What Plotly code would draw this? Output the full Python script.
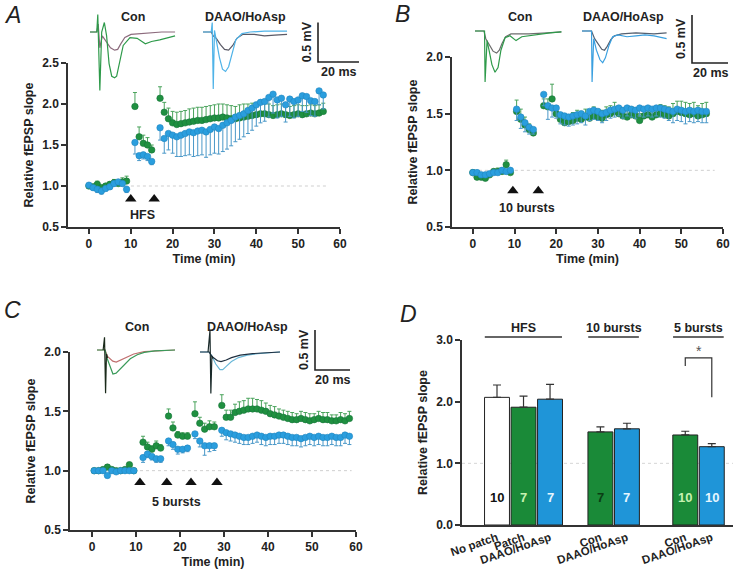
import plotly.graph_objects as go

W, H = 733, 570

# ---------------- data ----------------
# panel A (HFS)
a_time = list(range(0, 10)) + [11, 12, 13, 14, 15] + list(range(17, 57))
a_con = [1.00, 0.99, 1.02, 0.98, 1.00, 1.02, 1.04, 1.03, 1.05, 1.06,
         1.97, 1.60, 1.52, 1.50, 1.44,
         2.07, 1.90, 1.82, 1.77, 1.75, 1.76, 1.77, 1.78, 1.79, 1.80,
         1.80, 1.81, 1.82, 1.83, 1.83, 1.84, 1.83, 1.82, 1.82, 1.83,
         1.84, 1.85, 1.86, 1.87, 1.88, 1.88, 1.87, 1.86, 1.87, 1.88,
         1.87, 1.86, 1.87, 1.88, 1.87, 1.88, 1.89, 1.88, 1.89, 1.91]
a_con_err = [0.03, 0.03, 0.04, 0.03, 0.03, 0.03, 0.04, 0.04, 0.05, 0.06,
             0.17, 0.12, 0.10, 0.09, 0.06,
             0.14, 0.12, 0.13, 0.14, 0.15, 0.15, 0.15, 0.16, 0.16, 0.16,
             0.16, 0.16, 0.16, 0.16, 0.17, 0.16, 0.16, 0.16, 0.15, 0.16,
             0.16, 0.15, 0.15, 0.14, 0.14, 0.13, 0.13, 0.12, 0.12, 0.12,
             0.12, 0.11, 0.11, 0.11, 0.11, 0.10, 0.10, 0.10, 0.10, 0.10]
a_daao = [1.01, 0.98, 0.96, 0.94, 0.97, 0.99, 1.03, 1.05, 1.03, 0.96,
          1.53, 1.37, 1.38, 1.36, 1.30,
          1.71, 1.58, 1.64, 1.62, 1.60, 1.62, 1.64, 1.66, 1.65, 1.67,
          1.68, 1.66, 1.69, 1.72, 1.70, 1.74, 1.77, 1.80, 1.84, 1.86,
          1.88, 1.92, 1.95, 1.99, 2.02, 2.03, 2.08, 2.12, 2.05, 2.07,
          1.99, 2.06, 2.03, 2.05, 2.10, 2.09, 2.04, 2.03, 2.16, 2.11]
a_daao_err = [0.03, 0.03, 0.04, 0.04, 0.03, 0.03, 0.03, 0.03, 0.03, 0.04,
              0.14, 0.06, 0.05, 0.05, 0.04,
              0.15, 0.18, 0.20, 0.22, 0.24, 0.26, 0.27, 0.28, 0.29, 0.30,
              0.30, 0.31, 0.31, 0.32, 0.31, 0.32, 0.32, 0.31, 0.30, 0.29,
              0.28, 0.28, 0.27, 0.26, 0.25, 0.24, 0.24, 0.23, 0.22, 0.22,
              0.21, 0.21, 0.20, 0.20, 0.19, 0.19, 0.18, 0.18, 0.17, 0.17]
a_stims = [10, 15.6]

# panel B (10 bursts)
b_time = list(range(0, 10)) + [10.5, 11.5, 12.5, 13.5, 14.5] + list(range(17, 57))
b_con = [0.98, 0.94, 0.94, 0.93, 0.96, 0.99, 0.99, 0.99, 1.05, 0.98,
         1.52, 1.45, 1.40, 1.36, 1.33,
         1.57, 1.56, 1.63, 1.50, 1.45, 1.42, 1.43, 1.44, 1.46, 1.45,
         1.47, 1.46, 1.48, 1.47, 1.46, 1.49, 1.50, 1.52, 1.50, 1.48,
         1.47, 1.49, 1.48, 1.44, 1.48, 1.49, 1.47, 1.49, 1.50, 1.49,
         1.48, 1.50, 1.52, 1.51, 1.50, 1.49, 1.50, 1.48, 1.49, 1.50]
b_con_err = [0.02, 0.02, 0.02, 0.02, 0.02, 0.02, 0.03, 0.03, 0.04, 0.03,
             0.10, 0.09, 0.07, 0.05, 0.04,
             0.06, 0.07, 0.13, 0.07, 0.06, 0.06, 0.06, 0.07, 0.07, 0.07,
             0.07, 0.07, 0.08, 0.07, 0.07, 0.07, 0.07, 0.08, 0.07, 0.07,
             0.07, 0.07, 0.07, 0.06, 0.07, 0.07, 0.07, 0.07, 0.08, 0.08,
             0.08, 0.09, 0.09, 0.10, 0.10, 0.10, 0.10, 0.09, 0.10, 0.10]
b_daao = [0.98, 0.98, 0.96, 0.96, 0.97, 0.98, 0.98, 1.00, 0.99, 1.00,
          1.54, 1.47, 1.42, 1.38, 1.36,
          1.67, 1.57, 1.55, 1.55, 1.49, 1.48, 1.47, 1.48, 1.49, 1.50,
          1.48, 1.52, 1.53, 1.52, 1.50, 1.51, 1.53, 1.54, 1.55, 1.53,
          1.55, 1.54, 1.53, 1.55, 1.54, 1.55, 1.54, 1.55, 1.55, 1.54,
          1.53, 1.52, 1.54, 1.53, 1.52, 1.53, 1.52, 1.53, 1.52, 1.52]
b_daao_err = [0.02, 0.02, 0.02, 0.02, 0.02, 0.02, 0.02, 0.02, 0.02, 0.02,
              0.10, 0.10, 0.08, 0.06, 0.04,
              0.10, 0.12, 0.08, 0.09, 0.08, 0.08, 0.08, 0.08, 0.08, 0.08,
              0.08, 0.08, 0.08, 0.08, 0.08, 0.07, 0.07, 0.07, 0.07, 0.07,
              0.07, 0.07, 0.07, 0.07, 0.07, 0.07, 0.07, 0.07, 0.08, 0.08,
              0.09, 0.10, 0.10, 0.10, 0.11, 0.10, 0.10, 0.10, 0.10, 0.10]
b_stims = [9.6, 15.7]

# panel C (5 bursts)
c_time = ([0.5, 1.5, 2.5, 3.5, 4.5, 5.5, 6.5, 7.5, 8.5, 9.5]
          + [11.6, 12.6, 13.6, 14.6, 15.6]
          + [17.4, 18.4, 19.5, 20.6, 21.7]
          + [23.4, 24.5, 25.6, 26.7, 27.8]
          + [29.5 + i for i in range(30)])
c_con = [1.00, 1.00, 1.01, 1.03, 1.01, 1.00, 1.00, 1.01, 1.05, 1.00,
         1.24, 1.20, 1.18, 1.21, 1.19,
         1.46, 1.36, 1.30, 1.29, 1.29,
         1.48, 1.40, 1.35, 1.37, 1.37,
         1.55, 1.45, 1.45, 1.49, 1.50, 1.51, 1.52, 1.52, 1.52, 1.51,
         1.50, 1.48, 1.47, 1.46, 1.45, 1.44, 1.43, 1.43, 1.44, 1.43,
         1.42, 1.43, 1.44, 1.43, 1.43, 1.42, 1.42, 1.43, 1.42, 1.44]
c_con_err = [0.01, 0.01, 0.01, 0.02, 0.01, 0.01, 0.01, 0.01, 0.02, 0.01,
             0.05, 0.04, 0.03, 0.04, 0.03,
             0.06, 0.05, 0.03, 0.03, 0.03,
             0.10, 0.05, 0.05, 0.05, 0.04,
             0.09, 0.06, 0.06, 0.07, 0.08, 0.08, 0.09, 0.09, 0.08, 0.08,
             0.07, 0.07, 0.07, 0.06, 0.06, 0.06, 0.06, 0.05, 0.06, 0.06,
             0.06, 0.05, 0.06, 0.06, 0.06, 0.05, 0.05, 0.06, 0.06, 0.06]
c_daao = [1.00, 1.00, 1.00, 0.96, 1.00, 0.99, 1.00, 1.00, 1.00, 1.00,
          1.11, 1.14, 1.12, 1.10, 1.10,
          1.25, 1.22, 1.18, 1.18, 1.19,
          1.31, 1.25, 1.21, 1.21, 1.21,
          1.34, 1.32, 1.31, 1.30, 1.29, 1.28, 1.28, 1.29, 1.30, 1.29,
          1.28, 1.29, 1.29, 1.30, 1.30, 1.29, 1.28, 1.28, 1.27, 1.28,
          1.29, 1.28, 1.29, 1.28, 1.28, 1.29, 1.28, 1.28, 1.30, 1.29]
c_daao_err = [0.01, 0.01, 0.01, 0.02, 0.01, 0.01, 0.01, 0.01, 0.01, 0.01,
              0.04, 0.03, 0.03, 0.03, 0.03,
              0.04, 0.04, 0.04, 0.03, 0.03,
              0.04, 0.05, 0.08, 0.05, 0.04,
              0.05, 0.06, 0.06, 0.06, 0.06, 0.06, 0.06, 0.06, 0.06, 0.07,
              0.07, 0.07, 0.07, 0.07, 0.07, 0.07, 0.07, 0.07, 0.07, 0.07,
              0.07, 0.07, 0.07, 0.07, 0.07, 0.07, 0.07, 0.07, 0.07, 0.07]
c_stims = [10.9, 17.0, 22.5, 28.4]

# panel D (summary)
d_groups = ["HFS", "10 bursts", "5 bursts"]
d_group_sizes = [3, 2, 2]
d_labels = ["No patch", "Patch", "DAAO/HoAsp", "Con", "DAAO/HoAsp", "Con", "DAAO/HoAsp"]
d_values = [2.07, 1.91, 2.04, 1.51, 1.56, 1.46, 1.27]
d_errors = [0.20, 0.18, 0.24, 0.08, 0.09, 0.06, 0.05]
d_n = [10, 7, 7, 7, 7, 10, 10]

# example fEPSP traces (ms, mV)
a_con_ms = [0, 3.3, 3.8, 4.8, 5.7, 7.0, 8.1, 9.3, 10.6, 12.0, 13.0, 14.6, 16.2, 19.5, 23, 27, 30, 34, 38, 41.5]
a_con_post = [0, 0, 0.22, -0.74, 0.0, 0.12, -0.05, -0.40, -0.56, -0.58, -0.56, -0.38, -0.17, -0.07, -0.08,
              -0.15, -0.12, -0.10, -0.07, -0.05]
a_con_pre_ms = [0, 3.3, 4.0, 4.8, 6, 8, 10, 12, 13.5, 15, 17, 20, 25, 30, 35, 41.5]
a_con_pre = [0, 0, 0.10, -0.20, -0.05, -0.12, -0.20, -0.23, -0.22, -0.15, -0.07, -0.03, -0.02, -0.01, 0.0, 0.0]
a_daao_ms = [0, 4.0, 4.5, 5.0, 5.6, 6.5, 8.0, 9.5, 11.0, 12.5, 14.0, 16.0, 19.0, 23, 30, 36, 41]
a_daao_post = [0, 0, 0.12, -0.72, 0.02, -0.10, -0.32, -0.47, -0.50, -0.44, -0.28, -0.10, -0.02, 0.0, 0.01, 0.01, 0.01]
a_daao_pre_ms = [0, 4.0, 5.0, 6.5, 8.5, 10.5, 12.5, 14.5, 16.5, 19.5, 25, 30, 35, 41]
a_daao_pre = [0, 0, -0.05, -0.08, -0.16, -0.22, -0.23, -0.17, -0.08, -0.03, -0.03, -0.05, -0.04, -0.03]

b_con_ms = [0, 5.0, 5.3, 5.6, 6.7, 7.8, 9.4, 11.1, 12.8, 14.4, 16.7, 19.4, 22.8, 26, 33, 41.7, 48]
b_con_post = [0, 0, 0.0, -0.53, -0.10, -0.20, -0.35, -0.43, -0.38, -0.20, -0.07, -0.05, -0.10, -0.06, -0.04,
              -0.02, -0.01]
b_con_pre_ms = [0, 5, 6, 8, 10, 12, 13.5, 15, 17, 20, 25, 30, 40, 48]
b_con_pre = [0, 0, -0.08, -0.15, -0.21, -0.23, -0.20, -0.13, -0.06, -0.03, -0.03, -0.03, -0.02, -0.01]
b_daao_ms = [0, 5.3, 5.6, 6.5, 8, 10, 11.5, 13, 15, 17, 20, 25, 30, 35, 40, 45, 47]
b_daao_post = [0, 0, -0.53, -0.08, -0.20, -0.30, -0.33, -0.28, -0.15, -0.06, -0.04, -0.06, -0.05, -0.04,
               -0.05, -0.07, -0.08]
b_daao_pre_ms = [0, 5.3, 7, 9, 11, 12.5, 14, 16, 18, 22, 30, 40, 47]
b_daao_pre = [0, 0, -0.08, -0.14, -0.19, -0.20, -0.16, -0.09, -0.05, -0.03, -0.02, -0.03, -0.02]

c_con_ms = [0, 4.6, 5.7, 7.4, 9.1, 10.9, 13, 16, 19, 23, 27, 33, 44.6]
c_con_post = [0, 0, -0.10, -0.20, -0.30, -0.29, -0.24, -0.17, -0.11, -0.06, -0.03, -0.01, 0.0]
c_con_pre_ms = [0, 4.6, 6, 9, 11, 14, 17, 21, 27, 35, 44.6]
c_con_pre = [0, 0, -0.08, -0.14, -0.15, -0.12, -0.08, -0.05, -0.02, -0.01, 0.0]
c_con_art_ms = [3.5, 4.3, 4.9, 5.4, 6.0]
c_con_art = [0, 0.16, -0.54, -0.05, -0.10]
c_daao_ms = [0, 5.2, 6.8, 9, 11.4, 13, 15, 18, 22, 27, 33, 40, 45.7]
c_daao_post = [0, 0, -0.05, -0.15, -0.22, -0.22, -0.18, -0.12, -0.07, -0.04, -0.02, -0.01, 0]
c_daao_pre_ms = [0, 5.2, 7, 10, 12, 15, 18, 23, 30, 45.7]
c_daao_pre = [0, 0, -0.06, -0.11, -0.12, -0.10, -0.07, -0.04, -0.02, 0]
c_daao_art_ms = [4.6, 5.7, 6.2, 6.8, 7.4]
c_daao_art = [0, 0.27, -0.52, -0.05, -0.08]

# ---------------- style ----------------
GREEN = "#1f9040"
GREEN_ERR = "#4aa35c"
BLUE = "#2a9ede"
BLUE_ERR = "#4a98c8"
BAR_GREEN = "#1a8a38"
BAR_BLUE = "#1f95d8"
AXC = "#333333"
FONT = "Liberation Sans, Arial, sans-serif"

fig = go.Figure()
layout = dict(width=W, height=H, margin=dict(l=0, r=0, t=0, b=0, autoexpand=False),
              template="none",
              paper_bgcolor="white", plot_bgcolor="rgba(0,0,0,0)", showlegend=False,
              font=dict(family=FONT, size=12, color="#222"))
shapes = []
annotations = []

AX = dict(showline=True, linecolor=AXC, linewidth=1.5, ticks="outside", ticklen=5, tickwidth=1.5,
          tickcolor=AXC, showgrid=False, zeroline=False, automargin=False,
          tickfont=dict(family=FONT, size=12, weight="bold", color="#222"))
TITLE_FONT = dict(family=FONT, size=12.5, weight="bold", color="#222")


def sfx(n):
    return "" if n == 1 else str(n)


def text(x, y, s, size=12.5, xref="paper", yref="paper", **kw):
    if xref == "paper":
        x = x / W
    if yref == "paper":
        y = 1 - y / H
    annotations.append(dict(x=x, y=y, xref=xref, yref=yref, text=s, showarrow=False,
                            xanchor="center", yanchor="middle",
                            font=dict(family=FONT, size=size, weight=kw.pop("weight", "bold"),
                                      color=kw.pop("color", "#222"), style=kw.pop("style", "normal")), **kw))


def time_panel(n, box, yr, t, con, con_err, daao, daao_err, stims, stim_y, stim_text, stim_text_xy, line_end):
    s = sfx(n)
    x0, y0, x1, y1 = box
    layout["xaxis" + s] = dict(domain=[x0 / W, x1 / W], range=[-5, 60], anchor="y" + s,
                               tickvals=[0, 10, 20, 30, 40, 50, 60],
                               title=dict(text="Time (min)", font=TITLE_FONT, standoff=4), **AX)
    layout["yaxis" + s] = dict(domain=[1 - y1 / H, 1 - y0 / H], range=yr, anchor="x" + s,
                               tick0=0.5, dtick=0.5, tickformat=".1f",
                               title=dict(text="Relative fEPSP slope", font=TITLE_FONT, standoff=6), **AX)
    shapes.append(dict(type="line", xref="x" + s, yref="y" + s, x0=0, x1=line_end, y0=1, y1=1,
                       line=dict(color="#cfcfcf", width=1, dash="dot"), layer="below"))
    fig.add_trace(go.Scatter(
        x=t, y=con, mode="markers", xaxis="x" + s, yaxis="y" + s,
        marker=dict(color=GREEN, size=6.5, line=dict(color="#17763a", width=0.6)),
        error_y=dict(type="data", symmetric=False, array=con_err, arrayminus=[0] * len(con),
                     color=GREEN_ERR, thickness=1, width=2)))
    fig.add_trace(go.Scatter(
        x=t, y=daao, mode="markers", xaxis="x" + s, yaxis="y" + s,
        marker=dict(color=BLUE, size=6.5, line=dict(color="#2286c0", width=0.6)),
        error_y=dict(type="data", symmetric=False, array=[0] * len(daao), arrayminus=daao_err,
                     color=BLUE_ERR, thickness=1, width=2)))
    fig.add_trace(go.Scatter(
        x=stims, y=[stim_y] * len(stims), mode="markers", xaxis="x" + s, yaxis="y" + s,
        marker=dict(symbol="triangle-up", size=10, color="#111")))
    text(stim_text_xy[0], stim_text_xy[1], stim_text, size=12.5, xref="x" + s, yref="y" + s)


def inset(n, x0, y0, pxms, pxmv, tr, vr):
    layout["xaxis%d" % n] = dict(domain=[(x0 + tr[0] * pxms) / W, (x0 + tr[1] * pxms) / W],
                                 range=tr, visible=False, anchor="y%d" % n, automargin=False)
    layout["yaxis%d" % n] = dict(domain=[1 - (y0 - vr[0] * pxmv) / H, 1 - (y0 - vr[1] * pxmv) / H],
                                 range=vr, visible=False, anchor="x%d" % n, automargin=False)


def wave(n, ms, mv, color, width=1.2):
    fig.add_trace(go.Scatter(x=ms, y=mv, mode="lines", xaxis="x%d" % n, yaxis="y%d" % n,
                             line=dict(color=color, width=width), hoverinfo="skip"))


def scalebar(n, x0, y0, pxms, pxmv):
    inset(n, x0, y0, pxms, pxmv, [-2, 22], [-0.05, 0.55])
    fig.add_trace(go.Scatter(x=[0, 0, 20], y=[0.5, 0, 0], mode="lines", xaxis="x%d" % n, yaxis="y%d" % n,
                             line=dict(color="#222", width=1.6)))
    annotations.append(dict(x=10, y=0, xref="x%d" % n, yref="y%d" % n, text="20 ms", showarrow=False,
                            yanchor="top", yshift=-1, font=dict(family=FONT, size=12.5, weight="bold", color="#222")))
    annotations.append(dict(x=0, y=0.25, xref="x%d" % n, yref="y%d" % n, text="0.5 mV", showarrow=False,
                            textangle=-90, xanchor="right", xshift=-2,
                            font=dict(family=FONT, size=12.5, weight="bold", color="#222")))


# ---------------- panels A-C ----------------
time_panel(1, (68, 63, 340, 227), [0.5, 2.5], a_time, a_con, a_con_err, a_daao, a_daao_err,
           a_stims, 0.84, "HFS", (12.8, 0.65), 57)
time_panel(2, (452, 57, 723, 227), [0.5, 2.0], b_time, b_con, b_con_err, b_daao, b_daao_err,
           b_stims, 0.82, "10 bursts", (13, 0.67), 58)
time_panel(3, (70, 352, 356, 530), [0.5, 2.0], c_time, c_con, c_con_err, c_daao, c_daao_err,
           c_stims, 0.90, "5 bursts", (19.3, 0.74), 59)

# ---------------- panel D ----------------
pos = []
gaps = [0, 1.9, 2.2]
for g, size in enumerate(d_group_sizes):
    start = (pos[-1] + gaps[g]) if pos else 0.0
    pos += [start + i for i in range(size)]

bar_colors = ["white", BAR_GREEN, BAR_BLUE, BAR_GREEN, BAR_BLUE, BAR_GREEN, BAR_BLUE]
n_colors = ["#111111", "#c6f2b0", "#e6f6ff", "#0b3d14", "#e6f6ff", "#c6f2b0", "#e6f6ff"]

layout["xaxis4"] = dict(domain=[462 / W, 1.0], range=[-1.32, 8.9], anchor="y4",
                        tickvals=pos, ticktext=d_labels, tickangle=-19, automargin=False,
                        showline=True, linecolor=AXC, linewidth=1.5, ticks="", showgrid=False, zeroline=False,
                        tickfont=dict(family=FONT, size=11.5, weight="bold", color="#222"))
layout["yaxis4"] = dict(domain=[1 - 525 / H, 1 - 340 / H], range=[0, 3.0], anchor="x4",
                        tickvals=[0, 1, 2, 3], tickformat=".1f",
                        title=dict(text="Relative fEPSP slope", font=TITLE_FONT, standoff=6), **AX)
shapes.append(dict(type="line", xref="x4 domain", yref="y4", x0=0, x1=1, y0=1, y1=1,
                   line=dict(color="#d5d5d5", width=1, dash="dot"), layer="below"))
fig.add_trace(go.Bar(
    x=pos, y=d_values, width=0.94, xaxis="x4", yaxis="y4",
    marker=dict(color=bar_colors, line=dict(color="#222", width=1)),
    error_y=dict(type="data", symmetric=False, array=d_errors, arrayminus=[0] * len(d_errors),
                 color="#333", thickness=1.2, width=4)))
for p, n, c in zip(pos, d_n, n_colors):
    text(p, 0.45, str(n), size=13, xref="x4", yref="y4", color=c)

# group labels and lines
i = 0
for name, size in zip(d_groups, d_group_sizes):
    first, last = pos[i], pos[i + size - 1]
    shapes.append(dict(type="line", xref="x4", yref="paper", x0=first - 0.46, x1=last + 0.45,
                       y0=1 - 337 / H, y1=1 - 337 / H, line=dict(color="#333", width=1.3)))
    annotations.append(dict(x=(first + last) / 2, y=1 - 328 / H, xref="x4", yref="paper", text=name,
                            showarrow=False, font=dict(family=FONT, size=12.5, weight="bold", color="#222")))
    i += size

# significance bracket
fig.add_trace(go.Scatter(x=[pos[5], pos[5], pos[6], pos[6]], y=[2.58, 2.71, 2.71, 2.07], mode="lines",
                         xaxis="x4", yaxis="y4", line=dict(color="#333", width=1.2)))
text((pos[5] + pos[6]) / 2, 2.82, "*", size=14, xref="x4", yref="y4", color="#555", weight="normal")

# ---------------- inset traces ----------------
inset(5, 90, 32, 2.05, 79, [-1, 45], [-0.8, 0.3])
wave(5, a_con_pre_ms, a_con_pre, "#8c6b7d")
wave(5, a_con_ms, a_con_post, "#2e9a4a")
inset(6, 203, 32, 2.05, 79, [-1, 45], [-0.8, 0.3])
wave(6, a_daao_pre_ms, a_daao_pre, "#5a5a66")
wave(6, a_daao_ms, a_daao_post, "#4fb3e8")
scalebar(11, 318, 62, 2.05, 79)

inset(7, 475, 31, 1.8, 96, [-1, 50], [-0.6, 0.25])
wave(7, b_con_pre_ms, b_con_pre, "#6d6d6d")
wave(7, b_con_ms, b_con_post, "#2e9a4a")
inset(8, 582, 31, 1.8, 96, [-1, 50], [-0.6, 0.25])
wave(8, b_daao_pre_ms, b_daao_pre, "#556070")
wave(8, b_daao_ms, b_daao_post, "#3aa0e0")
scalebar(12, 692, 63, 1.8, 96)

inset(9, 97, 350, 1.75, 80, [-1, 50], [-0.6, 0.3])
wave(9, c_con_pre_ms, c_con_pre, "#c07070")
wave(9, c_con_ms, c_con_post, "#3a9a5a")
wave(9, c_con_art_ms, c_con_art, "#1a2a1a")
inset(10, 200, 352, 1.75, 80, [-1, 50], [-0.6, 0.3])
wave(10, c_daao_ms, c_daao_post, "#6ab8d8")
wave(10, c_daao_pre_ms, c_daao_pre, "#203040")
wave(10, c_daao_art_ms, c_daao_art, "#1a2a2a")
scalebar(13, 315, 370, 1.75, 80)

# inset titles
text(133, 17, "Con")
text(245, 17, "DAAO/HoAsp")
text(520, 17, "Con")
text(623, 17, "DAAO/HoAsp")
text(137, 327, "Con")
text(247, 327, "DAAO/HoAsp")

# panel letters
for letter, (lx, ly) in zip("ABCD", [(12, 15), (402, 14), (12, 310), (408, 314)]):
    text(lx, ly, letter, size=23, weight="normal", style="italic")

layout["shapes"] = shapes
layout["annotations"] = annotations
fig.update_layout(**layout)
# page body has a default 8px margin; drop it so the figure sits at the window origin
fig.write_html("out.html", config={"displayModeBar": False},
               post_script="document.body.style.margin='0px';")
